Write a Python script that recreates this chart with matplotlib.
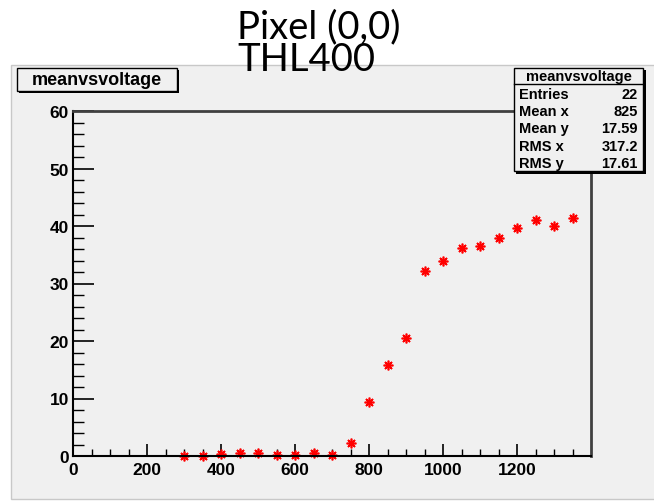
import matplotlib.pyplot as plt
import numpy as np
from matplotlib.patches import Rectangle
from matplotlib.ticker import FixedLocator, MultipleLocator

plt.rcParams['font.family'] = 'Liberation Sans'
plt.rcParams['font.weight'] = 'bold'

# data
voltage = [300, 350, 400, 450, 500, 550, 600, 650, 700, 750, 800,
           850, 900, 950, 1000, 1050, 1100, 1150, 1200, 1250, 1300, 1350]
mean = [0.0, 0.0, 0.4, 0.5, 0.5, 0.2, 0.2, 0.5, 0.1, 2.2, 9.4,
        15.9, 20.6, 32.1, 34.0, 36.2, 36.6, 38.0, 39.7, 41.0, 40.0, 41.4]
xtick_vals = [0, 200, 400, 600, 800, 1000, 1200]
stat_names = ['Entries', 'Mean x', 'Mean y', 'RMS x', 'RMS y']
stat_vals = ['22', '825', '17.59', '317.2', '17.61']

W, H = 654, 502
fig = plt.figure(figsize=(W / 100, H / 100), dpi=100)
fig.patch.set_facecolor('white')


def fx(x):
    return x / W


def fy(y):
    return 1 - y / H


def box(x0, y0, x1, y1, **kw):
    r = Rectangle((fx(x0), fy(y1)), fx(x1) - fx(x0), fy(y0) - fy(y1),
                  transform=fig.transFigure, **kw)
    fig.patches.append(r)
    return r


# grey canvas of the root pad
box(11, 66, 660, 500, facecolor='#f0f0f0', edgecolor='#c8c8c8', lw=1, zorder=-1)

ax = fig.add_axes([fx(73), fy(457), fx(591) - fx(73), fy(112) - fy(457)])
ax.set_zorder(2)
ax.set_facecolor('#f0f0f0')
ax.plot(voltage, mean, ls='none', marker=(8, 2, 0), ms=7, mew=1.2, color='red',
        clip_on=False)

ax.set_xlim(0, 1400)
ax.set_ylim(0, 60)
ax.xaxis.set_major_locator(FixedLocator(xtick_vals))
ax.xaxis.set_minor_locator(FixedLocator(np.arange(50, 1400, 50)))
ax.yaxis.set_major_locator(MultipleLocator(10))
ax.yaxis.set_minor_locator(MultipleLocator(2))
ax.tick_params(axis='x', which='major', direction='in', length=9, width=1.2,
               pad=4, labelsize=12.5)
ax.tick_params(axis='x', which='minor', direction='in', length=5, width=1)
ax.tick_params(axis='y', which='major', direction='in', length=15, width=1.2,
               pad=3, labelsize=12.5)
ax.tick_params(axis='y', which='minor', direction='in', length=8, width=1)
for s in ['left', 'bottom']:
    ax.spines[s].set_linewidth(1.5)
    ax.spines[s].set_color('black')
for s in ['top', 'right']:
    ax.spines[s].set_linewidth(2)
    ax.spines[s].set_color('#404040')

# title box
box(19, 71, 179, 94, facecolor='black', edgecolor='none', zorder=5)
box(17, 69, 177, 92, facecolor='#f0f0f0', edgecolor='black', lw=1, zorder=6)
fig.text(fx(97), fy(80.5), 'meanvsvoltage', ha='center', va='center',
         fontsize=13, fontweight='bold', zorder=7)

# stats box
box(516, 71, 646, 175, facecolor='black', edgecolor='none', zorder=5)
box(514, 69, 643, 172, facecolor='#f0f0f0', edgecolor='black', lw=1, zorder=6)
fig.add_artist(plt.Line2D([fx(514), fx(643)], [fy(85), fy(85)],
                          transform=fig.transFigure, color='black', lw=1, zorder=7))
fig.text(fx(578.5), fy(77), 'meanvsvoltage', ha='center', va='center',
         fontsize=10.5, fontweight='bold', zorder=7)
row_y = [95, 112, 129, 147, 164]
for name, val, yy in zip(stat_names, stat_vals, row_y):
    fig.text(fx(519), fy(yy), name, ha='left', va='center', fontsize=10.5,
             fontweight='bold', zorder=7)
    fig.text(fx(638), fy(yy), val, ha='right', va='center', fontsize=10.5,
             fontweight='bold', zorder=7)

# slide heading
fig.text(fx(237), fy(38), 'Pixel (0,0)', ha='left', va='baseline',
         fontsize=27.5, family='Lato', fontweight='normal', zorder=8)
fig.text(fx(237), fy(71), 'THL400', ha='left', va='baseline',
         fontsize=27.5, family='Lato', fontweight='normal', zorder=8)

fig.savefig('out.png', dpi=100)
